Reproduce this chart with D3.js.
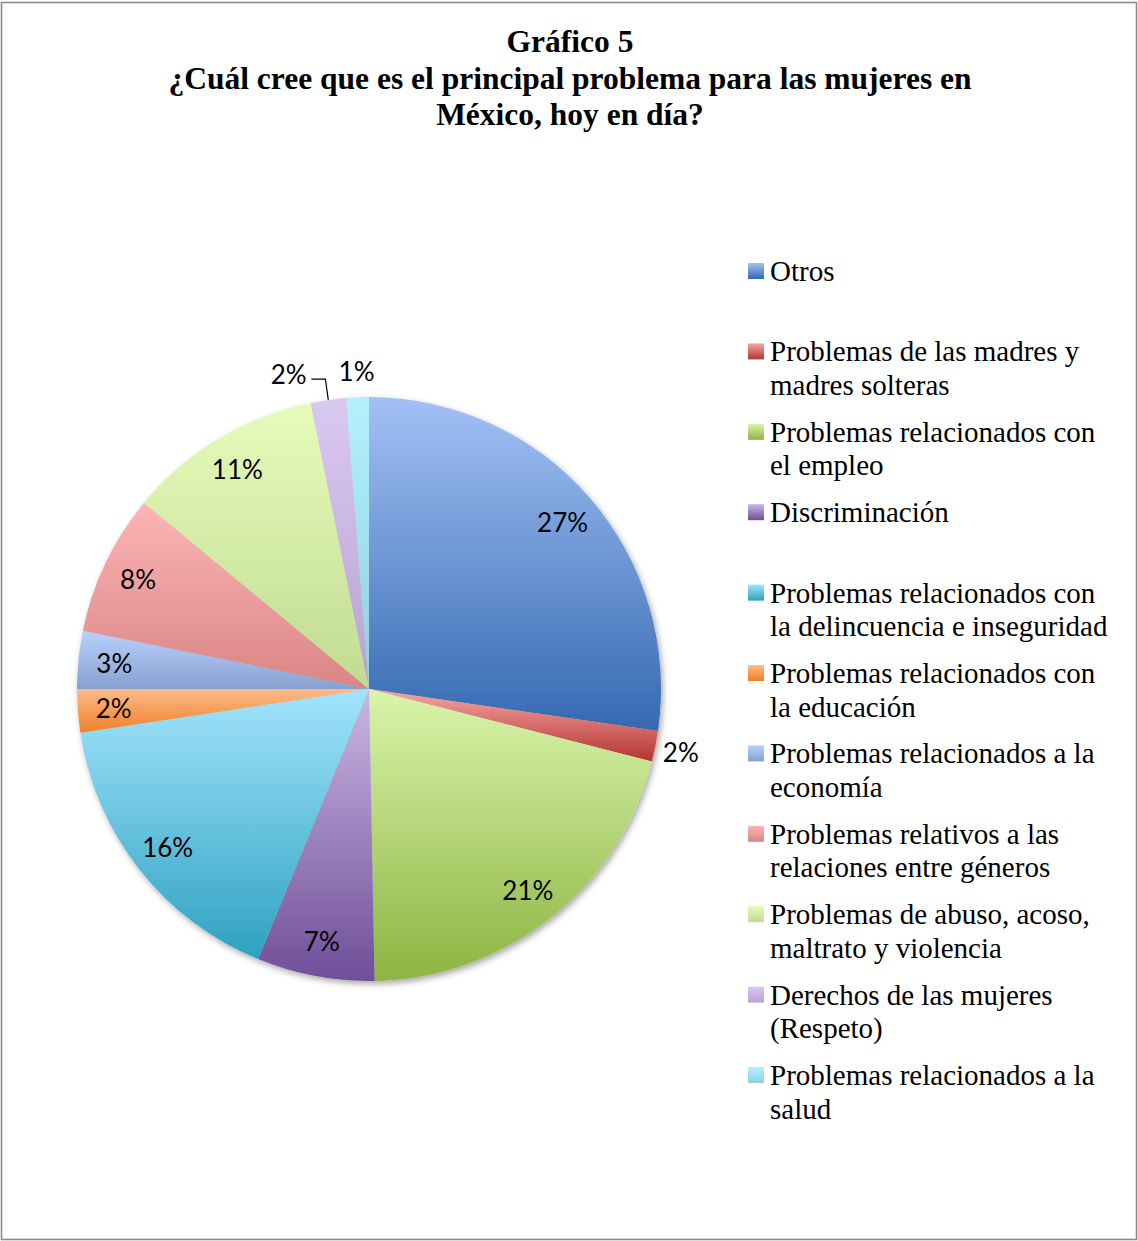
<!DOCTYPE html>
<html>
<head>
<meta charset="utf-8">
<script src="https://cdn.jsdelivr.net/npm/d3@7"></script>
<style>
  body { margin: 0; background: #fff; }
</style>
</head>
<body>
<svg id="chart"></svg>
<script>
// data (share of answers, %)
const categories = [
  "Otros",
  "Problemas de las madres y|madres solteras",
  "Problemas relacionados con|el empleo",
  "Discriminación",
  "Problemas relacionados con|la delincuencia e inseguridad",
  "Problemas relacionados con|la educación",
  "Problemas relacionados a la|economía",
  "Problemas relativos a las|relaciones entre géneros",
  "Problemas de abuso, acoso,|maltrato y violencia",
  "Derechos de las mujeres|(Respeto)",
  "Problemas relacionados a la|salud"
];
const values = [27.3, 1.7, 20.7, 6.5, 16.4, 2.4, 3.2, 7.8, 10.8, 1.95, 1.25];
const labels = ["27%", "2%", "21%", "7%", "16%", "2%", "3%", "8%", "11%", "2%", "1%"];
const labelPlace = ["in", "out", "in", "in", "in", "in", "in", "in", "in", "leader", "out"];

// gradient colours, top -> bottom
const colorsTop = ["#a3c1f5", "#f4a6a4", "#d9f5aa", "#cbb6e3", "#a2e4fc", "#fdbb8a", "#b9d1fc", "#fcb6b5", "#e5fcba", "#d9c9f1", "#b2f1fd"];
const colorsBottom = ["#3469b1", "#b63330", "#8db443", "#6f4f98", "#2fa1c1", "#ef7f27", "#87a0d0", "#d98584", "#c1db92", "#b9a2d1", "#90cfdf"];

const titleLines = ["Gráfico 5", "¿Cuál cree que es el principal problema para las mujeres en", "México, hoy en día?"];

const W = 1138, H = 1241;
const cx = 369, cy = 689, radius = 292;

const svg = d3.select("#chart")
  .attr("width", W)
  .attr("height", H);

const defs = svg.append("defs");

colorsTop.forEach((c, i) => {
  const g = defs.append("linearGradient")
    .attr("id", "grad" + i)
    .attr("x1", 0).attr("y1", 0)
    .attr("x2", 0).attr("y2", 1);
  g.append("stop").attr("offset", "0%").attr("stop-color", c);
  g.append("stop").attr("offset", "100%").attr("stop-color", colorsBottom[i]);
});

const shadow = defs.append("filter")
  .attr("id", "shadow")
  .attr("x", "-10%").attr("y", "-10%")
  .attr("width", "120%").attr("height", "120%");
shadow.append("feDropShadow")
  .attr("dx", 2).attr("dy", 3)
  .attr("stdDeviation", 3)
  .attr("flood-color", "#000")
  .attr("flood-opacity", 0.35);

// outer border
svg.append("rect")
  .attr("x", 1.5).attr("y", 2.5)
  .attr("width", W - 3).attr("height", H - 4)
  .attr("fill", "#fff")
  .attr("stroke", "#8a8a8a")
  .attr("stroke-width", 1.6);

// title
svg.append("g")
  .selectAll("text")
  .data(titleLines)
  .enter()
  .append("text")
  .attr("x", 570)
  .attr("y", (d, i) => 52 + i * 36.5)
  .attr("text-anchor", "middle")
  .attr("font-family", "Liberation Serif, Times New Roman, serif")
  .attr("font-weight", "bold")
  .attr("font-size", 31.5)
  .text(d => d);

// pie
const pie = d3.pie().sort(null).value(d => d);
const arcs = pie(values);

const arc = d3.arc().innerRadius(0).outerRadius(radius);

const g = svg.append("g")
  .attr("transform", `translate(${cx}, ${cy})`);

g.append("g")
  .attr("filter", "url(#shadow)")
  .selectAll("path")
  .data(arcs)
  .enter()
  .append("path")
  .attr("d", arc)
  .attr("fill", (d, i) => `url(#grad${i})`);

// labels
const inR = 256, outR = 318;
function polar(a, r) {
  return [r * Math.sin(a), -r * Math.cos(a)];
}

g.selectAll("text.lbl")
  .data(arcs)
  .enter()
  .append("text")
  .attr("class", "lbl")
  .attr("transform", (d, i) => {
    const a = (d.startAngle + d.endAngle) / 2;
    let p;
    if (labelPlace[i] === "in") p = polar(a, inR);
    else if (labelPlace[i] === "out") p = polar(a, outR);
    else { const e = polar(a, outR); p = [e[0] - 36, e[1]]; }
    return `translate(${p[0]}, ${p[1]})`;
  })
  .attr("text-anchor", "middle")
  .attr("dominant-baseline", "central")
  .attr("font-family", "Lato, Open Sans, sans-serif")
  .attr("font-size", 26)
  .attr("fill", "#000")
  .text((d, i) => labels[i]);

// leader line for the narrow slice
arcs.forEach((d, i) => {
  if (labelPlace[i] !== "leader") return;
  const a = (d.startAngle + d.endAngle) / 2;
  const p0 = polar(a, radius);
  const p1 = polar(a, outR - 5);
  g.append("path")
    .attr("d", `M${p1[0] - 14},${p1[1]} L${p1[0]},${p1[1]} L${p0[0]},${p0[1]}`)
    .attr("fill", "none")
    .attr("stroke", "#000")
    .attr("stroke-width", 1.2);
});

// legend
const legend = svg.append("g")
  .attr("transform", "translate(748, 281)");

const items = legend.selectAll("g")
  .data(categories)
  .enter()
  .append("g")
  .attr("transform", (d, i) => `translate(0, ${i * 80.4})`);

items.append("rect")
  .attr("x", 0).attr("y", -18)
  .attr("width", 16).attr("height", 16)
  .attr("fill", (d, i) => `url(#grad${i})`);

items.append("text")
  .attr("font-family", "Liberation Serif, Times New Roman, serif")
  .attr("font-size", 29)
  .attr("fill", "#000")
  .selectAll("tspan")
  .data(d => d.split("|"))
  .enter()
  .append("tspan")
  .attr("x", 22)
  .attr("y", (d, i) => i * 33.5)
  .text(d => d);
</script>
</body>
</html>
